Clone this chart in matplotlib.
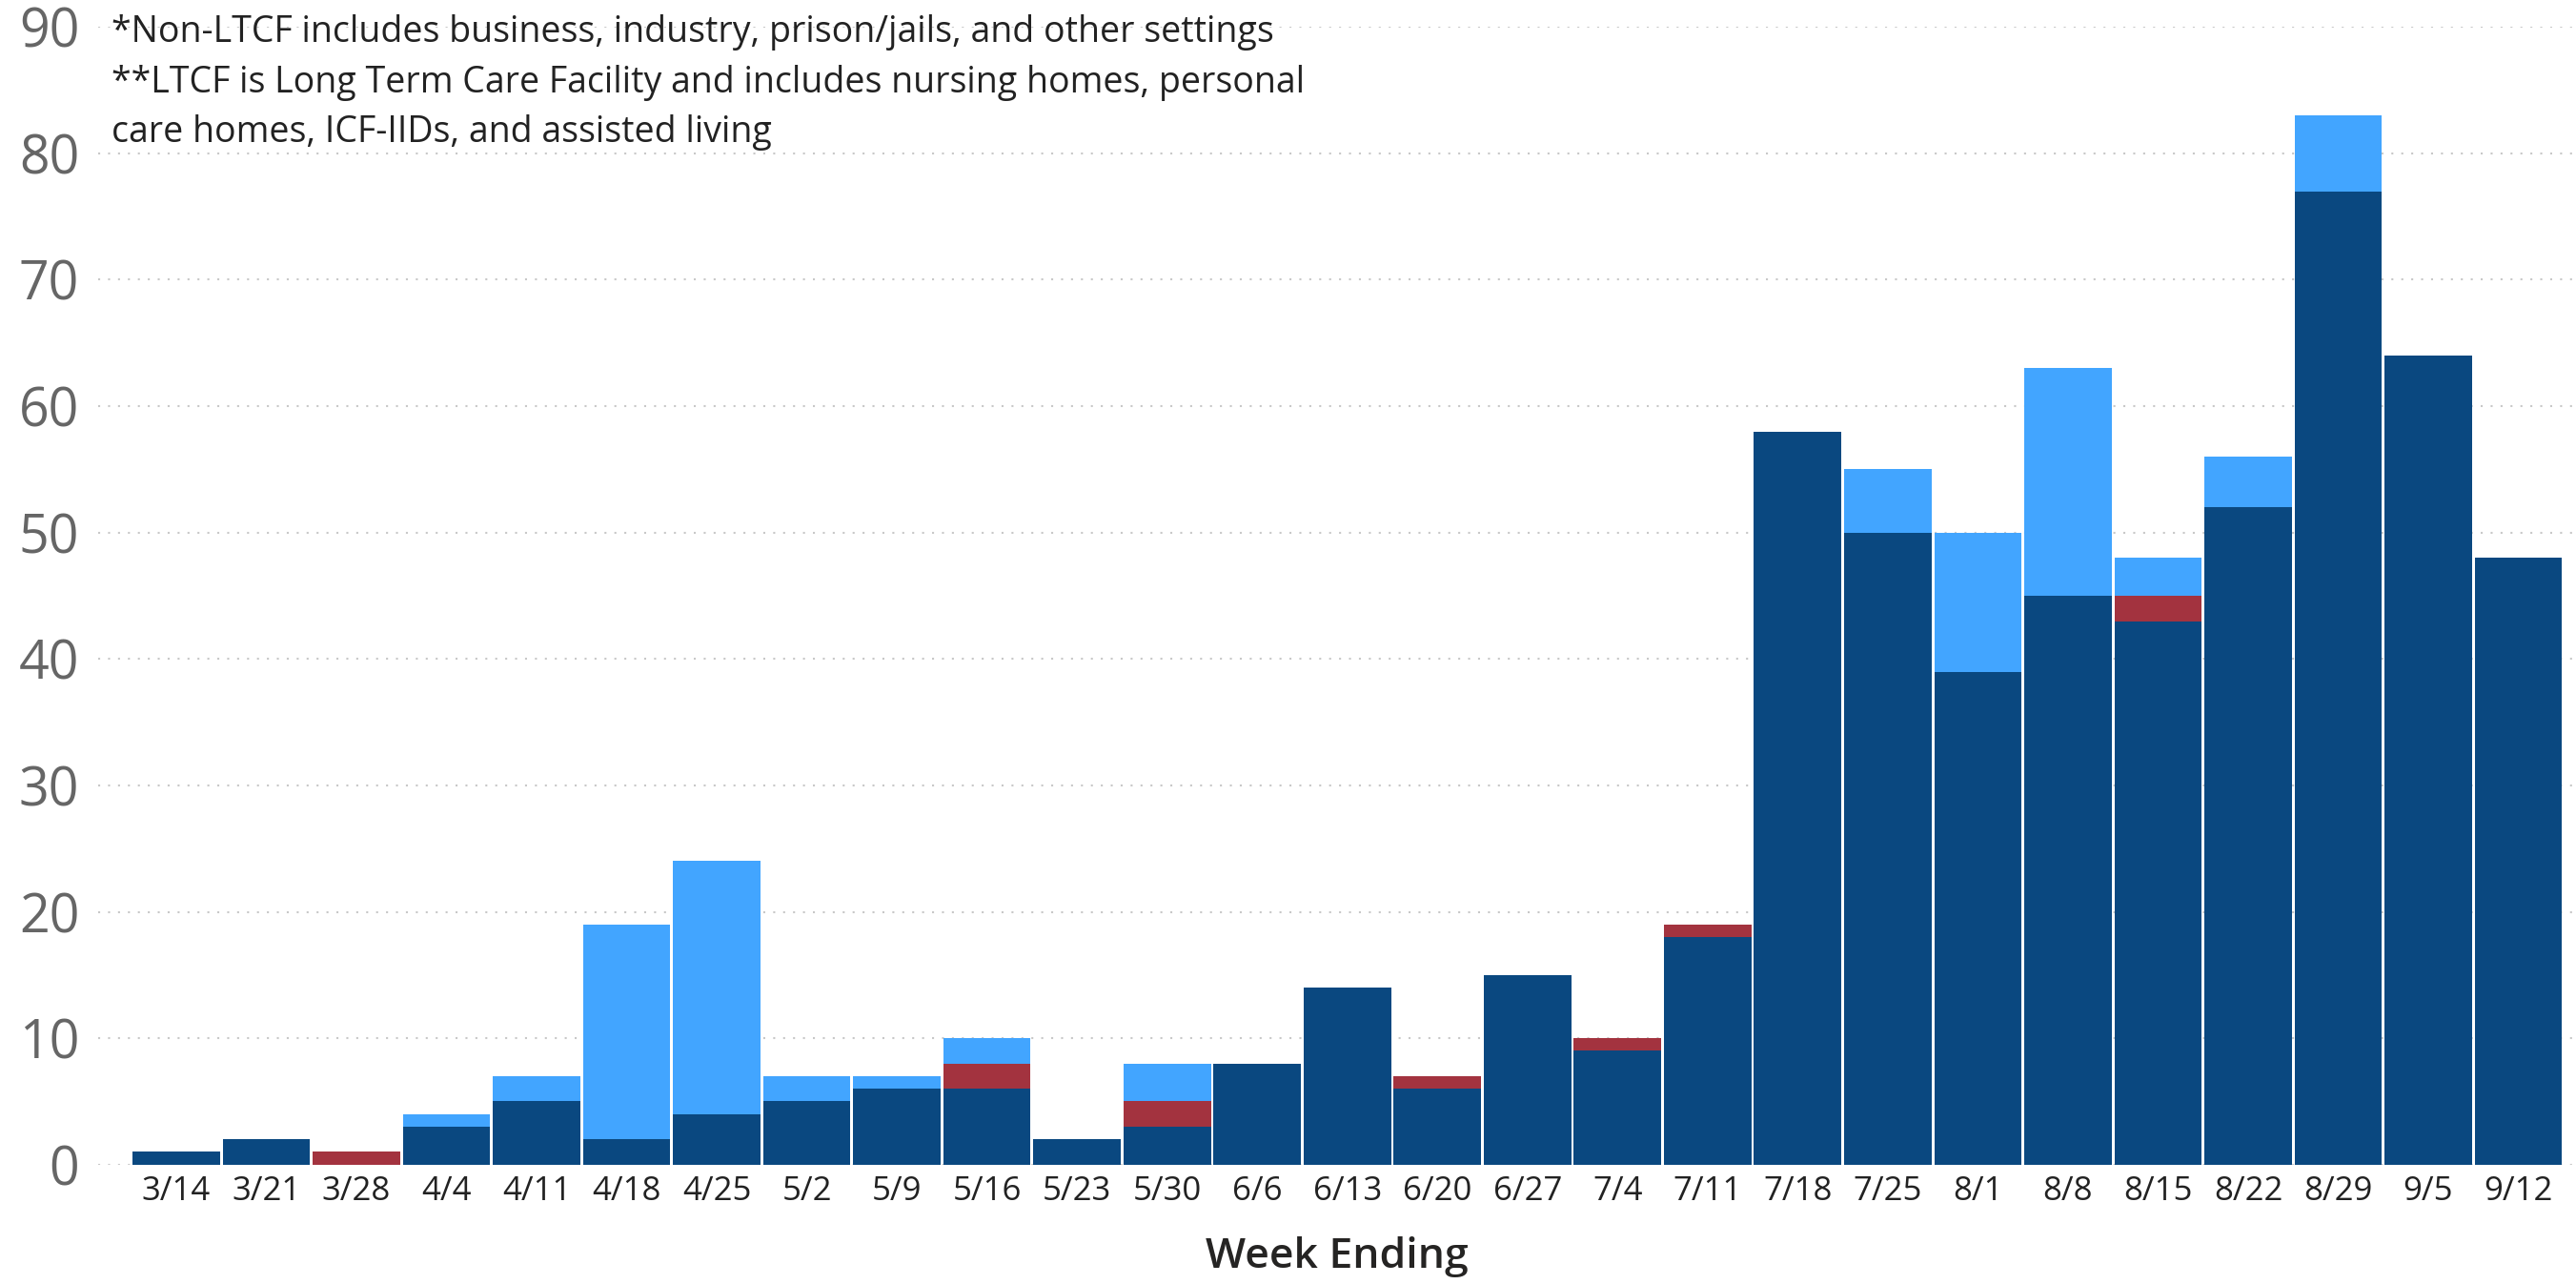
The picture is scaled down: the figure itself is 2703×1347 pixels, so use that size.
import matplotlib.pyplot as plt
import numpy as np

plt.rcParams['font.family'] = ['Open Sans', 'DejaVu Sans']

weeks = ['3/14', '3/21', '3/28', '4/4', '4/11', '4/18', '4/25', '5/2', '5/9', '5/16',
         '5/23', '5/30', '6/6', '6/13', '6/20', '6/27', '7/4', '7/11', '7/18', '7/25',
         '8/1', '8/8', '8/15', '8/22', '8/29', '9/5', '9/12']
# dark blue (bottom), red (middle), light blue (top)
dark = [1, 2, 0, 3, 5, 2, 4, 5, 6, 6, 2, 3, 8, 14, 6, 15, 9, 18, 58, 50, 39, 45, 43, 52, 77, 64, 48]
red = [0, 0, 1, 0, 0, 0, 0, 0, 0, 2, 0, 2, 0, 0, 1, 0, 1, 1, 0, 0, 0, 0, 2, 0, 0, 0, 0]
light = [0, 0, 0, 1, 2, 17, 20, 2, 1, 2, 0, 3, 0, 0, 0, 0, 0, 0, 0, 5, 11, 18, 3, 4, 6, 0, 0]

notes = ("*Non-LTCF includes business, industry, prison/jails, and other settings\n"
         "**LTCF is Long Term Care Facility and includes nursing homes, personal\n"
         "care homes, ICF-IIDs, and assisted living")

fig = plt.figure(figsize=(27.03, 13.47), dpi=100)
ax = fig.add_axes([0.038, 0.093, 0.962, 0.886])

x = np.arange(len(weeks))
dark = np.array(dark)
red = np.array(red)
light = np.array(light)
w = 0.97
ax.bar(x, dark, width=w, color='#0A4880', zorder=2)
ax.bar(x, red, width=w, bottom=dark, color='#A3333F', zorder=2)
ax.bar(x, light, width=w, bottom=dark + red, color='#42A5FF', zorder=2)

ax.set_xlim(-0.87, 26.64)
ax.set_ylim(0, 90)
ax.set_yticks(range(0, 91, 10))
ax.set_xticks(x)
ax.set_xticklabels(weeks)
ax.tick_params(axis='y', length=0, labelsize=40, labelcolor='#666666', pad=14)
ax.tick_params(axis='x', length=0, labelsize=25, labelcolor='#222222', pad=8)
for s in ax.spines.values():
    s.set_visible(False)
ax.grid(axis='y', color='#C8C8C8', linestyle=(0, (1, 4)), linewidth=1.5, zorder=0)

ax.set_xlabel('Week Ending', fontsize=32, color='#252423', fontweight='semibold', labelpad=22)

ax.text(-0.72, 91.0, notes, fontsize=27, color='#222222', va='top', ha='left',
        linespacing=1.5, zorder=3)

fig.savefig('out.png', dpi=100)
